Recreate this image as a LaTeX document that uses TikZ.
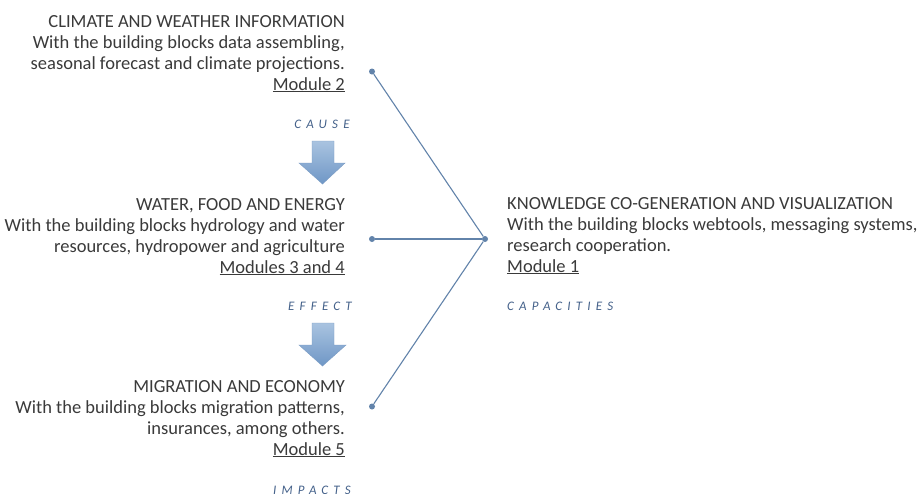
\documentclass[tikz,border=0pt]{standalone}
\usepackage{fontspec}
\setmainfont{Carlito}
\newfontfamily\capsfont[LetterSpace=40]{Carlito}
\definecolor{textgray}{HTML}{3A3A3A}
\definecolor{lblblue}{HTML}{44618A}
\definecolor{linkblue}{HTML}{6283AA}
\definecolor{arrtop}{HTML}{A9C3E0}
\definecolor{arrbot}{HTML}{6F97C6}
\definecolor{arredge}{HTML}{7B9CC4}
\begin{document}
\begin{tikzpicture}[x=1pt,y=-1pt,
  txt/.style={font=\fontsize{18.5}{20.8}\selectfont, text=textgray, inner sep=0pt},
  lbl/.style={font=\fontsize{13}{15}\selectfont\capsfont\itshape, text=lblblue, inner sep=0pt, anchor=base},
  dot/.style={circle, fill=linkblue, inner sep=0pt, minimum size=6pt},
  link/.style={draw=linkblue, line width=1.1pt},
  bigarrow/.style={top color=arrtop, bottom color=arrbot, draw=arredge, line width=0.4pt}]
\useasboundingbox (0,0) rectangle (917,493);
\fill[white] (0,0) rectangle (917,493);

% left blocks (anchor = baseline of the last line)
\node[txt, align=right, anchor=base east] (clim) at (345,90) {CLIMATE AND WEATHER INFORMATION\\With the building blocks data assembling,\\seasonal forecast and climate projections.\\\underline{Module 2}};
\node[lbl] (cause) at (322,128) {CAUSE};
\draw[bigarrow] (312,141) -- (334,141) -- (334,163) -- (345,163) -- (322.5,184) -- (299,163) -- (312,163) -- cycle;

\node[txt, align=right, anchor=base east] (water) at (345,273) {WATER, FOOD AND ENERGY\\With the building blocks hydrology and water\\resources, hydropower and agriculture\\\underline{Modules 3 and 4}};
\node[lbl] (effect) at (320,310) {EFFECT};
\draw[bigarrow] (312,323) -- (334,323) -- (334,345) -- (346,345) -- (322.5,366) -- (299,345) -- (312,345) -- cycle;

\node[txt, align=right, anchor=base east] (migr) at (345,455) {MIGRATION AND ECONOMY\\With the building blocks migration patterns,\\insurances, among others.\\\underline{Module 5}};
\node[lbl] (impacts) at (312,494) {IMPACTS};

% right block
\node[txt, align=left, anchor=base west] (know) at (507,272) {KNOWLEDGE CO-GENERATION AND VISUALIZATION\\With the building blocks webtools, messaging systems,\\research cooperation.\\\underline{Module 1}};
\node[lbl, anchor=base west] (capac) at (507,310) {CAPACITIES};

% connectors
\node[dot] (d1) at (372,71.5) {};
\node[dot] (d2) at (372,239) {};
\node[dot] (d3) at (372,406.5) {};
\node[dot] (hub) at (485,239) {};
\draw[link] (d1) -- (hub);
\draw[link] (d2) -- (hub);
\draw[link] (d3) -- (hub);
\end{tikzpicture}
\end{document}
